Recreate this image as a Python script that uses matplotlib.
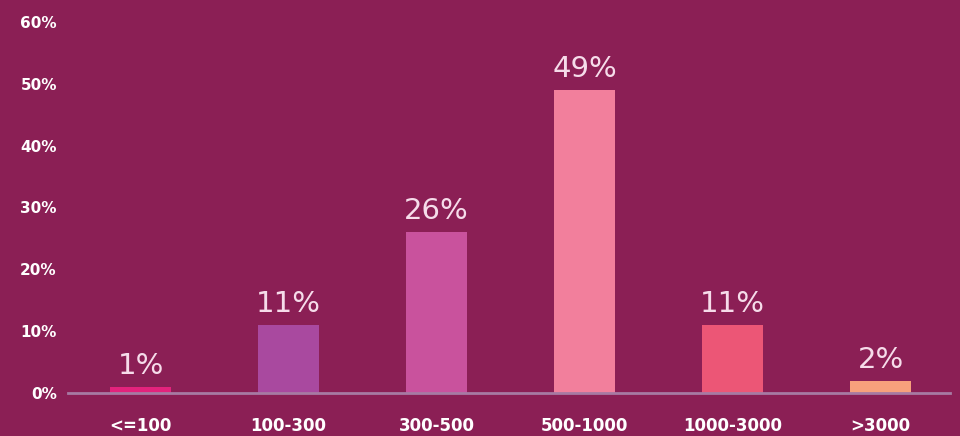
import matplotlib
matplotlib.use("Agg")
import matplotlib.pyplot as plt

categories = ["<=100", "100-300", "300-500", "500-1000", "1000-3000", ">3000"]
shares = [1, 11, 26, 49, 11, 2]
bar_colors = ["#e3237c", "#a9499f", "#c9529d", "#f27f9c", "#ec5676", "#f8a07c"]
y_ticks = [0, 10, 20, 30, 40, 50, 60]

bg = "#8b1f55"
fig = plt.figure(figsize=(9.6, 4.36), dpi=100, facecolor=bg)
ax = fig.add_axes([0.0708, 0.0986, 0.919, 0.851], facecolor=bg)

x = range(len(categories))
bars = ax.bar(x, shares, width=0.41, color=bar_colors, zorder=2)

for rect, v in zip(bars, shares):
    ax.annotate(f"{v}%", (rect.get_x() + rect.get_width() / 2, rect.get_height()),
                xytext=(0, 5), textcoords="offset points", ha="center", va="bottom",
                fontsize=21, color="#f6dcea", zorder=3)

ax.set_xlim(-0.49, 5.47)
ax.set_ylim(0, 60)
ax.set_yticks(y_ticks)
ax.set_yticklabels([f"{t}%" for t in y_ticks])
ax.set_xticks(list(x))
ax.set_xticklabels(categories)

for s in ["top", "right", "left"]:
    ax.spines[s].set_visible(False)
ax.spines["bottom"].set_color("#a77aa3")
ax.spines["bottom"].set_linewidth(2)
ax.spines["bottom"].set_zorder(3)

ax.tick_params(axis="y", length=0, pad=8, labelsize=11, labelcolor="white")
ax.tick_params(axis="x", length=0, pad=17, labelsize=12, labelcolor="white")
for lbl in ax.get_yticklabels() + ax.get_xticklabels():
    lbl.set_fontweight("semibold")

fig.savefig("out.png", dpi=100, facecolor=bg)
